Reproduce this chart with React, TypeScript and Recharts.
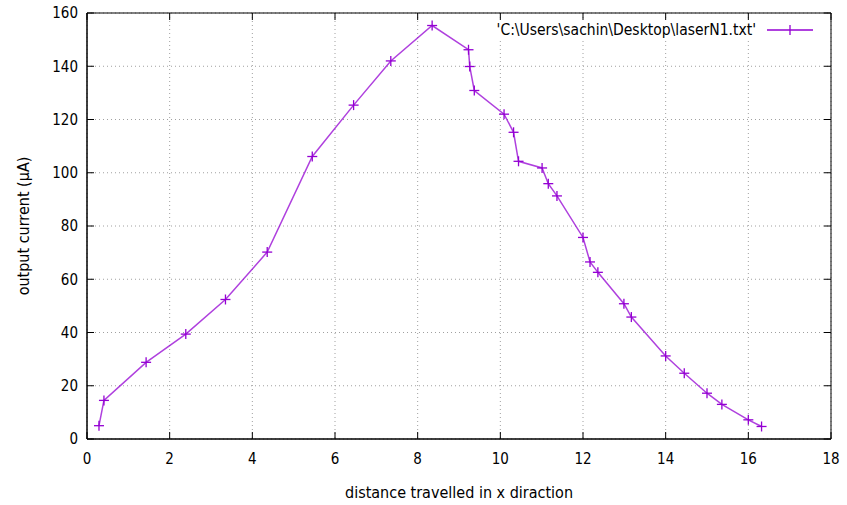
import { LineChart, Line, XAxis, YAxis, CartesianGrid, ReferenceArea, ReferenceLine } from "recharts";

const distance = [
  0.29, 0.41, 1.43, 2.39, 3.35, 4.36, 5.45, 6.45, 7.35, 8.35, 9.23, 9.26, 9.37, 10.09, 10.32,
  10.44, 11.01, 11.16, 11.37, 12.0, 12.17, 12.36, 12.99, 13.17, 14.0, 14.45, 15.0, 15.36, 16.0, 16.32,
];
const current = [
  5.0, 14.5, 28.8, 39.4, 52.4, 70.2, 106.1, 125.4, 142.0, 155.3, 146.2, 139.9, 130.9, 122.0, 115.2,
  104.3, 101.8, 95.9, 91.3, 75.7, 66.5, 62.6, 50.8, 45.8, 31.2, 24.7, 17.2, 13.0, 7.2, 4.7,
];
const xTicks = [0, 2, 4, 6, 8, 10, 12, 14, 16, 18];
const yTicks = [0, 20, 40, 60, 80, 100, 120, 140, 160];
const seriesName = "'C:\\Users\\sachin\\Desktop\\laserN1.txt'";

const data = distance.map((x, i) => ({ x, y: current[i] }));

const X_MAX = 18;
const Y_MAX = 160;
const PURPLE = "#9400d3";
const FONT = "'DejaVu Sans Condensed', 'Liberation Sans', sans-serif";

function PlusDot(props: any) {
  const { cx, cy, index } = props;
  if (cx == null || cy == null) return null;
  return (
    <g key={`dot-${index}`}>
      <line x1={cx - 5} x2={cx + 5} y1={cy} y2={cy} stroke={PURPLE} strokeWidth={1.3} />
      <line x1={cx} x2={cx} y1={cy - 5} y2={cy + 5} stroke={PURPLE} strokeWidth={1.3} />
    </g>
  );
}

function LegendBox() {
  return (
    <div
      style={{
        position: "absolute",
        top: 21,
        right: 24,
        display: "flex",
        alignItems: "center",
        fontFamily: FONT,
        fontSize: 15.5,
        color: "#000",
        background: "#fff",
      }}
    >
      <span>{seriesName}</span>
      <svg width={58} height={12} style={{ marginLeft: 9 }}>
        <line x1={2} x2={48} y1={6} y2={6} stroke={PURPLE} strokeWidth={1.3} />
        <line x1={25} x2={25} y1={1} y2={11} stroke={PURPLE} strokeWidth={1.3} />
      </svg>
    </div>
  );
}

export default function App() {
  const tickStyle = { fontFamily: FONT, fontSize: 15, fill: "#000" };
  const titleStyle = { fontFamily: FONT, fontSize: 16, fill: "#000" };
  // inward tick lengths on the top/right edges, in data units (~7px)
  const xTickLen = (7 / 744) * X_MAX;
  const yTickLen = (7 / 426) * Y_MAX;
  return (
    <div style={{ position: "absolute", left: 0, top: 0, width: 847, height: 505, background: "#fff" }}>
      <LineChart width={847} height={505} data={data} margin={{ top: 13, right: 16, bottom: 26, left: 27 }}>
        <CartesianGrid stroke="#a0a0a0" strokeDasharray="1 3" />
        <XAxis
          type="number"
          dataKey="x"
          domain={[0, X_MAX]}
          ticks={xTicks}
          height={40}
          tickSize={-7}
          tickMargin={21}
          stroke="#000"
          tick={tickStyle}
          label={{ value: "distance travelled in x diraction", position: "insideBottom", offset: -19, style: { ...titleStyle, textAnchor: "middle" } }}
        />
        <YAxis
          type="number"
          domain={[0, Y_MAX]}
          ticks={yTicks}
          width={60}
          tickSize={-7}
          tickMargin={16}
          stroke="#000"
          tick={tickStyle}
          label={{ value: "output current (\u03bcA)", angle: -90, position: "insideLeft", offset: -4, style: { ...titleStyle, textAnchor: "middle" } }}
        />
        <ReferenceArea x1={0} x2={X_MAX} y1={0} y2={Y_MAX} fill="none" fillOpacity={0} stroke="#000" strokeWidth={1} />
        {xTicks.map((t) => (
          <ReferenceLine key={`tx-${t}`} segment={[{ x: t, y: Y_MAX }, { x: t, y: Y_MAX - yTickLen }]} stroke="#000" />
        ))}
        {yTicks.map((t) => (
          <ReferenceLine key={`ty-${t}`} segment={[{ x: X_MAX, y: t }, { x: X_MAX - xTickLen, y: t }]} stroke="#000" />
        ))}
        <Line
          dataKey="y"
          name={seriesName}
          type="linear"
          stroke={PURPLE}
          strokeOpacity={0.75}
          strokeWidth={1.5}
          dot={PlusDot}
          activeDot={false}
          isAnimationActive={false}
        />
      </LineChart>
      <LegendBox />
    </div>
  );
}
